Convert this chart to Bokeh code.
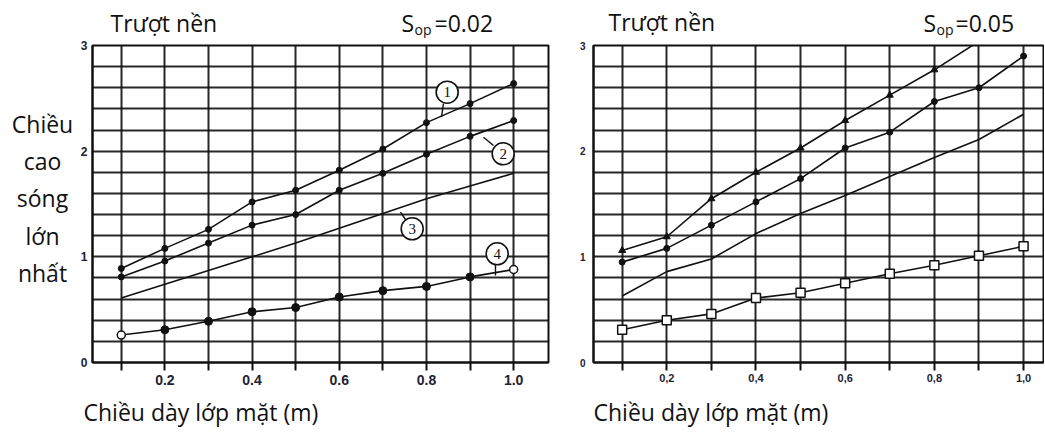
from bokeh.plotting import figure
from bokeh.layouts import row, column
from bokeh.models import FixedTicker, CustomJSTickFormatter
from bokeh.embed import file_html
from bokeh.resources import INLINE
from bokeh.core.properties import value

# ---------------- data ----------------
thickness = [0.1, 0.2, 0.3, 0.4, 0.5, 0.6, 0.7, 0.8, 0.9, 1.0]

# S_op = 0.02 (left panel)
left_c1 = [0.89, 1.08, 1.26, 1.52, 1.63, 1.82, 2.02, 2.27, 2.45, 2.64]
left_c2 = [0.81, 0.96, 1.13, 1.30, 1.40, 1.63, 1.79, 1.97, 2.14, 2.29]
left_c3 = [0.61, 0.74, 0.87, 1.00, 1.13, 1.27, 1.41, 1.55, 1.67, 1.79]
left_c4 = [0.26, 0.31, 0.39, 0.48, 0.52, 0.62, 0.68, 0.72, 0.81, 0.88]

# S_op = 0.05 (right panel)
right_x_a = [0.1, 0.2, 0.3, 0.4, 0.5, 0.6, 0.7, 0.8, 0.9]
right_c1 = [1.06, 1.19, 1.55, 1.80, 2.03, 2.29, 2.53, 2.77, 3.04]
right_c2 = [0.95, 1.08, 1.30, 1.52, 1.74, 2.03, 2.18, 2.47, 2.60, 2.90]
right_c3 = [0.63, 0.86, 0.98, 1.22, 1.41, 1.58, 1.76, 1.94, 2.11, 2.35]
right_c4 = [0.31, 0.40, 0.46, 0.61, 0.66, 0.75, 0.84, 0.92, 1.01, 1.10]

x_major = [0.2, 0.4, 0.6, 0.8, 1.0]
x_minor = [0.1, 0.3, 0.5, 0.7, 0.9]
left_x_labels = ["0.2", "0.4", "0.6", "0.8", "1.0"]
right_x_labels = ["0,2", "0,4", "0,6", "0,8", "1,0"]
y_major = [0, 1, 2, 3]
y_grid = [0.2, 0.4, 0.6, 0.8, 1.0, 1.2, 1.4, 1.6, 1.8, 2.0, 2.2, 2.4, 2.6, 2.8]

title_text = "Trượt nền"
sop_left = "=0.02"
sop_right = "=0.05"
ylabel_lines = ["Chiều", "cao", "sóng", "lớn", "nhất"]
xlabel_text = "Chiều dày lớp mặt (m)"
curve_ids = ["1", "2", "3", "4"]

FONT = "Open Sans"
INK = "#111111"

TOTAL_W = 1044
TOP_H = 38
MID_H = 354
BOT_H = 50
YLAB_W = 76
P1_W = 484
P2_W = TOTAL_W - YLAB_W - P1_W
BORDER_TOP = 7
BORDER_BOTTOM = 30


def conv1(px, py):
    return 0.034 + (px - 92) / 436.0, (362 - py) / 105.67


def strip(w, h, yr=None, bt=0, bb=0):
    s = figure(width=w, height=h, x_range=(0, w), y_range=yr if yr else (h, 0), title=None,
               output_backend="svg", toolbar_location=None, min_border=0,
               min_border_top=bt, min_border_bottom=bb,
               x_axis_location=None, y_axis_location=None)
    s.grid.visible = False
    s.outline_line_color = None
    s.background_fill_color = "white"
    s.border_fill_color = "white"
    return s


def put(s, x, y, texts, size, align="left"):
    # y is the wanted baseline; compensate the font's box offset
    yy = [v - 0.36 * size for v in y]
    s.text(x=x, y=yy, text=texts, text_font=value(FONT), text_font_size=f"{size}px",
           text_align=align, text_baseline="alphabetic", text_color=INK)


def fmt(labels):
    return CustomJSTickFormatter(args=dict(tvals=x_major, tlabs=labels), code="""
        for (let i = 0; i < tvals.length; i++) {
            if (Math.abs(tvals[i] - tick) < 1e-6) { return tlabs[i]; }
        }
        return "";
    """)


def base_fig(width, height, xr, bl, br, bt, bb, xfs, yfs, sx, sy, labels):
    p = figure(width=width, height=height, x_range=xr, y_range=(0, 3), title=None,
               output_backend="svg", toolbar_location=None,
               min_border_left=bl, min_border_right=br,
               min_border_top=bt, min_border_bottom=bb)
    p.background_fill_color = "white"
    p.border_fill_color = "white"
    p.outline_line_color = INK
    p.outline_line_width = 2

    p.xaxis.ticker = FixedTicker(ticks=x_major, minor_ticks=x_minor)
    p.xaxis.formatter = fmt(labels)
    p.xaxis.major_tick_out = 8
    p.xaxis.major_tick_in = 0
    p.xaxis.minor_tick_out = 8
    p.xaxis.minor_tick_in = 0
    p.xaxis.major_tick_line_width = 2
    p.xaxis.minor_tick_line_width = 2
    p.xaxis.major_tick_line_color = INK
    p.xaxis.minor_tick_line_color = INK
    p.xaxis.axis_line_color = INK
    p.xaxis.axis_line_width = 2
    p.xaxis.major_label_standoff = sx
    p.xaxis.major_label_text_font = "Liberation Sans"
    p.xaxis.major_label_text_font_style = "bold"
    p.xaxis.major_label_text_font_size = f"{xfs}px"
    p.xaxis.major_label_text_color = "#222233"

    p.yaxis.ticker = FixedTicker(ticks=y_major, minor_ticks=[])
    p.yaxis.major_tick_out = 0
    p.yaxis.major_tick_in = 0
    p.yaxis.minor_tick_out = 0
    p.yaxis.minor_tick_in = 0
    p.yaxis.axis_line_color = INK
    p.yaxis.axis_line_width = 2
    p.yaxis.major_label_standoff = sy
    p.yaxis.major_label_text_font = "Liberation Sans"
    p.yaxis.major_label_text_font_style = "bold"
    p.yaxis.major_label_text_font_size = f"{yfs}px"
    p.yaxis.major_label_text_color = "#222233"

    p.xgrid.ticker = FixedTicker(ticks=thickness)
    p.ygrid.ticker = FixedTicker(ticks=y_grid)
    for g in (p.xgrid, p.ygrid):
        g.grid_line_color = INK
        g.grid_line_width = 2
        g.grid_line_alpha = 0.9
    return p


# ---------------- left panel ----------------
p1 = base_fig(P1_W, MID_H, (0.034, 1.0799), 16, 12, BORDER_TOP, BORDER_BOTTOM, 14, 12, 4, 5, left_x_labels)

for ys in (left_c1, left_c2, left_c3, left_c4):
    p1.line(thickness, ys, line_color=INK, line_width=1.6)
p1.scatter(thickness, left_c1, size=6, marker="circle", fill_color=INK, line_color=INK)
p1.scatter(thickness, left_c2, size=6, marker="circle", fill_color=INK, line_color=INK)
p1.scatter(thickness[1:-1], left_c4[1:-1], size=8, marker="circle", fill_color=INK, line_color=INK)
p1.scatter([thickness[0], thickness[-1]], [left_c4[0], left_c4[-1]], size=8, marker="circle",
           fill_color="white", line_color=INK, line_width=1.5)

# circled curve numbers with leader lines (label positions, page pixels)
circle_px = [(446.7, 91.7), (502.7, 153.3), (411.7, 228.3), (496.7, 253.3)]
leader_px = [((443, 103), (441, 116.7)), ((483, 136.7), (493, 145)),
             ((400, 211.7), (405, 219)), ((495, 262), (495, 275))]
for (a, b) in leader_px:
    xa, ya = conv1(*a)
    xb, yb = conv1(*b)
    p1.segment(x0=[xa], y0=[ya], x1=[xb], y1=[yb], line_color=INK, line_width=1.4)
cx = [conv1(*c)[0] for c in circle_px]
cy = [conv1(*c)[1] for c in circle_px]
p1.scatter(cx, cy, size=22, marker="circle", fill_color="white", line_color=INK, line_width=1.6)
p1.text(cx, cy, text=curve_ids, text_font=value("Liberation Serif"), text_font_size="15px",
        text_align="center", text_baseline="middle", text_color=INK)

# ---------------- right panel ----------------
p2 = base_fig(P2_W, MID_H, (0.0357, 1.0447), 33, 1, BORDER_TOP, BORDER_BOTTOM - 1, 11, 10, 3, 8, right_x_labels)

p2.line(right_x_a, right_c1, line_color=INK, line_width=1.6)
p2.line(thickness, right_c2, line_color=INK, line_width=1.6)
p2.line(thickness, right_c3, line_color=INK, line_width=1.6)
p2.line(thickness, right_c4, line_color=INK, line_width=1.6)
p2.scatter(right_x_a, right_c1, size=7, marker="triangle", fill_color=INK, line_color=INK)
p2.scatter(thickness, right_c2, size=6, marker="circle", fill_color=INK, line_color=INK)
p2.scatter(thickness, right_c4, size=9, marker="square", fill_color="white", line_color=INK, line_width=1.5)

# ---------------- text strips ----------------
top = strip(TOTAL_W, TOP_H)
put(top, [110, 608], [31.2, 30], [title_text, title_text], 23)
put(top, [401, 923], [31, 31.2], ["S", "S"], 23)
put(top, [414, 936], [33.8, 33.8], ["op", "op"], 14)
put(top, [434, 955], [31, 31.2], [sop_left, sop_right], 23)

# y-label strip: its frame is aligned with the left panel frame -> page coordinates
frame_top = TOP_H + BORDER_TOP
frame_bottom = TOP_H + MID_H - BORDER_BOTTOM
ylab = strip(YLAB_W, MID_H, yr=(frame_bottom, frame_top), bt=BORDER_TOP, bb=BORDER_BOTTOM)
put(ylab, [42] * 5, [131.7, 168.5, 206, 243.5, 281], ylabel_lines, 23, align="center")

bot = strip(TOTAL_W, BOT_H)
put(bot, [83, 593], [420 - TOP_H - MID_H] * 2, [xlabel_text, xlabel_text], 23)

layout = column(top, row(ylab, p1, p2), bot)
open("out.html", "w").write(file_html(layout, INLINE))
